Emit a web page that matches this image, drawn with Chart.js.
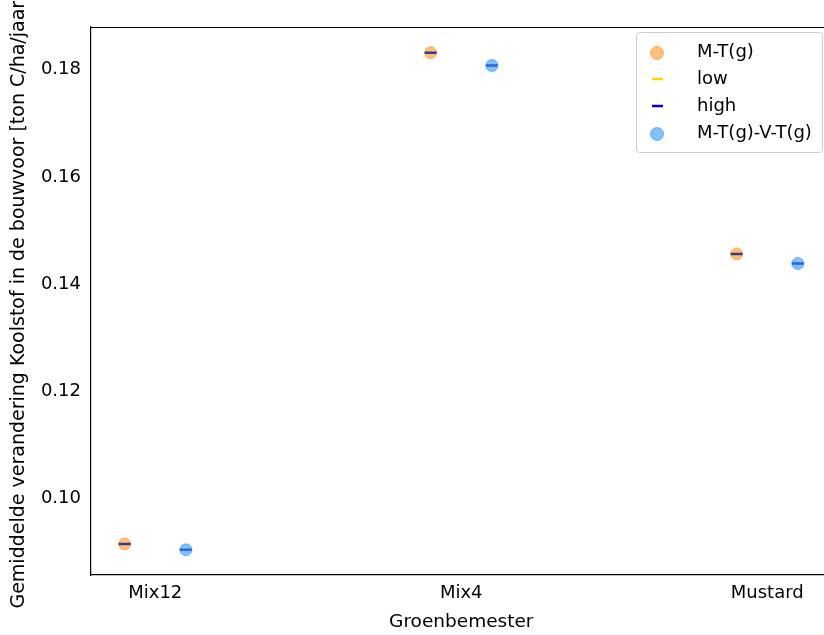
<!DOCTYPE html>
<html>
<head>
<meta charset="utf-8">
<script src="https://cdn.jsdelivr.net/npm/chart.js@4"></script>
<style>
  html, body { margin: 0; padding: 0; background: #fff; overflow: hidden; }
  #wrap { width: 840px; height: 635px; }
</style>
</head>
<body>
<div id="wrap"><canvas id="chart" width="840" height="635"></canvas></div>
<script>
// -------------------------- Data --------------------------
const categories = ['Mix12', 'Mix4', 'Mustard'];
const mtValues = [0.0914, 0.1832, 0.1456];      // M-T(g)
const mtvtValues = [0.0903, 0.1808, 0.1438];    // M-T(g)-V-T(g)
const lowMt = [0.0914, 0.1832, 0.1456];
const lowMtvt = [0.0903, 0.1808, 0.1438];
const highMt = [0.0914, 0.1832, 0.1456];
const highMtvt = [0.0903, 0.1808, 0.1438];
const yTicks = [0.10, 0.12, 0.14, 0.16, 0.18];
const offset = 0.1;

const FONT = 'DejaVu Sans';

function pts(vals, dx) { return vals.map((v, i) => ({ x: i + dx, y: v })); }

const orange = 'rgba(255,140,20,0.55)';
const blue = 'rgba(30,140,255,0.55)';

// -------------------------- Plugins --------------------------
const frame = {
  id: 'frame',
  afterDraw(chart) {
    const { ctx, chartArea: a } = chart;
    ctx.save();
    ctx.strokeStyle = '#000';
    ctx.lineWidth = 1.2;
    ctx.beginPath();
    ctx.moveTo(a.left, a.top + 0.5);
    ctx.lineTo(a.right, a.top + 0.5);
    ctx.lineTo(a.right, a.bottom);
    ctx.stroke();

    // legend box
    const x0 = 636, y0 = 32, w = 186, h = 120;
    ctx.fillStyle = 'rgba(255,255,255,0.8)';
    ctx.strokeStyle = '#cccccc';
    ctx.lineWidth = 1;
    ctx.beginPath();
    ctx.roundRect(x0 + 0.5, y0 + 0.5, w, h, 3);
    ctx.fill();
    ctx.stroke();

    const items = chart.data.datasets.filter(d => d.legendOrder !== undefined)
      .sort((a, b) => a.legendOrder - b.legendOrder);
    ctx.font = '18px "' + FONT + '"';
    ctx.textBaseline = 'middle';
    items.forEach((d, i) => {
      const y = 52 + i * 27;
      if (d.pointStyle === 'line') {
        ctx.strokeStyle = d.legendColor;
        ctx.lineWidth = 2.5;
        ctx.beginPath();
        ctx.moveTo(652, y);
        ctx.lineTo(663, y);
        ctx.stroke();
      } else {
        ctx.fillStyle = d.backgroundColor;
        ctx.strokeStyle = d.borderColor;
        ctx.lineWidth = 1;
        ctx.beginPath();
        ctx.arc(657, y + 1, 6.5, 0, Math.PI * 2);
        ctx.fill();
        ctx.stroke();
      }
      ctx.fillStyle = '#000';
      ctx.fillText(d.label, 697, y);
    });
    ctx.restore();
  }
};

// -------------------------- Chart --------------------------
const ctx = document.getElementById('chart').getContext('2d');
const chart = new Chart(ctx, {
  type: 'scatter',
  data: {
    datasets: [
      { label: 'M-T(g)', data: pts(mtValues, -offset), backgroundColor: orange, borderColor: orange,
        borderWidth: 1, pointRadius: 6, order: 4, legendOrder: 0 },
      { label: 'low', data: pts(lowMt, -offset).concat(pts(lowMtvt, offset)), pointStyle: 'line',
        borderColor: 'rgba(255,215,0,0.7)', backgroundColor: 'rgba(255,215,0,0.7)', legendColor: '#ffd700',
        borderWidth: 2.5, pointRadius: 6, order: 3, legendOrder: 1 },
      { label: 'high', data: pts(highMt, -offset).concat(pts(highMtvt, offset)), pointStyle: 'line',
        borderColor: 'rgba(0,0,190,0.75)', backgroundColor: 'rgba(0,0,190,0.75)', legendColor: '#0000cd',
        borderWidth: 2.5, pointRadius: 6, order: 2, legendOrder: 2 },
      { label: 'M-T(g)-V-T(g)', data: pts(mtvtValues, offset), backgroundColor: blue, borderColor: blue,
        borderWidth: 1, pointRadius: 6, order: 1, legendOrder: 3 }
    ]
  },
  options: {
    responsive: false,
    animation: false,
    layout: { padding: { top: 27, right: 8, left: 0, bottom: 0 } },
    plugins: { legend: { display: false }, tooltip: { enabled: false } },
    scales: {
      x: {
        type: 'linear', min: -0.21, max: 2.21,
        afterBuildTicks: s => { s.ticks = categories.map((c, i) => ({ value: i })); },
        afterFit: s => { s.height = 60; },
        grid: { display: false, drawTicks: true, tickLength: 5, tickColor: '#000' },
        border: { display: true, color: '#000', width: 1.2 },
        ticks: { color: '#000', font: { family: FONT, size: 18 }, padding: 3,
          maxRotation: 0, autoSkip: false, callback: v => categories[v] },
        title: { display: true, text: 'Groenbemester', color: '#000',
          font: { family: FONT, size: 18.5 }, padding: { top: 0, bottom: 2 } }
      },
      y: {
        min: 0.0856, max: 0.1880,
        afterBuildTicks: s => { s.ticks = yTicks.map(v => ({ value: v })); },
        afterFit: s => { s.width = 91; },
        grid: { display: false, drawTicks: true, tickLength: 5, tickColor: '#000' },
        border: { display: true, color: '#000', width: 1.2 },
        ticks: { color: '#000', font: { family: FONT, size: 18 }, padding: 5,
          callback: v => v.toFixed(2) },
        title: { display: true, text: 'Gemiddelde verandering Koolstof in de bouwvoor [ton C/ha/jaar]',
          color: '#000', font: { family: FONT, size: 19 }, padding: { top: 8, bottom: 0 } }
      }
    }
  },
  plugins: [frame]
});
</script>
</body>
</html>
